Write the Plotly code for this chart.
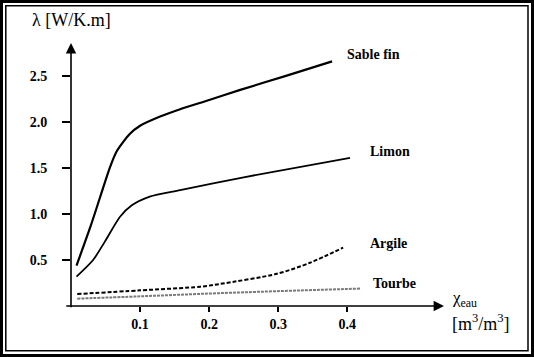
import plotly.graph_objects as go

# ---- data ----
sable_x = [0.008, 0.028, 0.042, 0.056, 0.066, 0.085, 0.100, 0.129, 0.158, 0.200, 0.245, 0.310, 0.378]
sable_y = [0.44, 0.86, 1.18, 1.50, 1.68, 1.87, 1.96, 2.06, 2.14, 2.24, 2.35, 2.50, 2.66]

limon_x = [0.008, 0.032, 0.049, 0.071, 0.088, 0.114, 0.158, 0.250, 0.404]
limon_y = [0.32, 0.50, 0.70, 0.97, 1.095, 1.19, 1.26, 1.40, 1.61]

argile_x = [0.009, 0.100, 0.187, 0.216, 0.298, 0.346, 0.394]
argile_y = [0.13, 0.17, 0.21, 0.24, 0.35, 0.47, 0.635]

tourbe_x = [0.009, 0.100, 0.216, 0.420]
tourbe_y = [0.08, 0.105, 0.14, 0.19]

series_names = ["Sable fin", "Limon", "Argile", "Tourbe"]
x_ticks = [0.1, 0.2, 0.3, 0.4]
y_ticks = [0.5, 1.0, 1.5, 2.0, 2.5]
y_title = "λ [W/K.m]"
x_title_1 = "χ<sub>eau</sub>"
x_title_2 = "[m<sup>3</sup>/m<sup>3</sup>]"

# ---- layout geometry ----
W, H = 534, 357
L, R, T, B = 71, 90, 43, 51
XMAX, YMAX = 0.54, 2.86
pw, ph = W - L - R, H - T - B

def px(xp):
    return (xp - L) / pw

def py(yp):
    return (H - B - yp) / ph

SERIF = "Liberation Serif"

fig = go.Figure()
fig.add_trace(go.Scatter(x=sable_x, y=sable_y, mode="lines", name=series_names[0],
                         line=dict(color="black", width=2.2, shape="spline", smoothing=0.7)))
fig.add_trace(go.Scatter(x=limon_x, y=limon_y, mode="lines", name=series_names[1],
                         line=dict(color="black", width=1.8, shape="spline", smoothing=0.7)))
fig.add_trace(go.Scatter(x=argile_x, y=argile_y, mode="lines", name=series_names[2],
                         line=dict(color="black", width=2, dash="4px,2px", shape="spline", smoothing=0.8)))
fig.add_trace(go.Scatter(x=tourbe_x, y=tourbe_y, mode="lines", name=series_names[3],
                         line=dict(color="#7a7a7a", width=2, dash="3px,1px", shape="spline")))

# series labels
label_pos = [(0.397, 2.73), (0.430, 1.685), (0.430, 0.68), (0.434, 0.245)]
for name, (lx, ly) in zip(series_names, label_pos):
    fig.add_annotation(x=lx, y=ly, text=name, showarrow=False, xanchor="left", yanchor="middle",
                       font=dict(family=SERIF, size=14, color="black", weight="bold"))

# axis arrows
fig.add_annotation(x=XMAX, y=0, ax=-0.009, ay=0, xref="x", yref="y", axref="x", ayref="y",
                   text="", showarrow=True, arrowhead=2, arrowsize=1.3, arrowwidth=1.6, arrowcolor="black")
fig.add_annotation(x=0, y=YMAX, ax=0, ay=-0.03, xref="x", yref="y", axref="x", ayref="y",
                   text="", showarrow=True, arrowhead=2, arrowsize=1.3, arrowwidth=1.6, arrowcolor="black")

# axis titles
fig.add_annotation(x=px(30), y=py(20), xref="paper", yref="paper", text=y_title, showarrow=False,
                   xanchor="left", yanchor="middle", font=dict(family=SERIF, size=18, color="black"))
fig.add_annotation(x=px(450), y=py(299), xref="paper", yref="paper", text=x_title_1, showarrow=False,
                   xanchor="left", yanchor="middle", font=dict(family=SERIF, size=17, color="black"))
fig.add_annotation(x=px(450), y=py(322), xref="paper", yref="paper", text=x_title_2, showarrow=False,
                   xanchor="left", yanchor="middle", font=dict(family=SERIF, size=18, color="black"))

# double frame
fig.add_shape(type="rect", xref="paper", yref="paper", x0=px(1.5), x1=px(532.5), y0=py(1.5), y1=py(355.5),
              line=dict(color="black", width=3))
fig.add_shape(type="rect", xref="paper", yref="paper", x0=px(5.8), x1=px(528), y0=py(5.8), y1=py(350.8),
              line=dict(color="black", width=1.5))

fig.update_xaxes(range=[0, XMAX], tickvals=x_ticks, tickformat=".1f", ticks="outside", ticklen=5,
                 tickwidth=1.5, tickcolor="black", showgrid=False, zeroline=False, showline=False,
                 tickfont=dict(family=SERIF, size=14, color="black", weight="bold"))
fig.update_yaxes(range=[0, YMAX], tickvals=y_ticks, tickformat=".1f", ticks="outside", ticklen=8,
                 tickwidth=1.5, tickcolor="black", showgrid=False, zeroline=False, showline=False,
                 ticklabelstandoff=12,
                 tickfont=dict(family=SERIF, size=14, color="black", weight="bold"))

fig.update_layout(width=W, height=H, autosize=False, margin=dict(l=L, r=R, t=T, b=B),
                  plot_bgcolor="white", paper_bgcolor="white", showlegend=False,
                  font=dict(family=SERIF))

fig.write_html("out.html", config={"displayModeBar": False},
               post_script="document.body.style.margin='0';document.body.style.overflow='hidden';")
